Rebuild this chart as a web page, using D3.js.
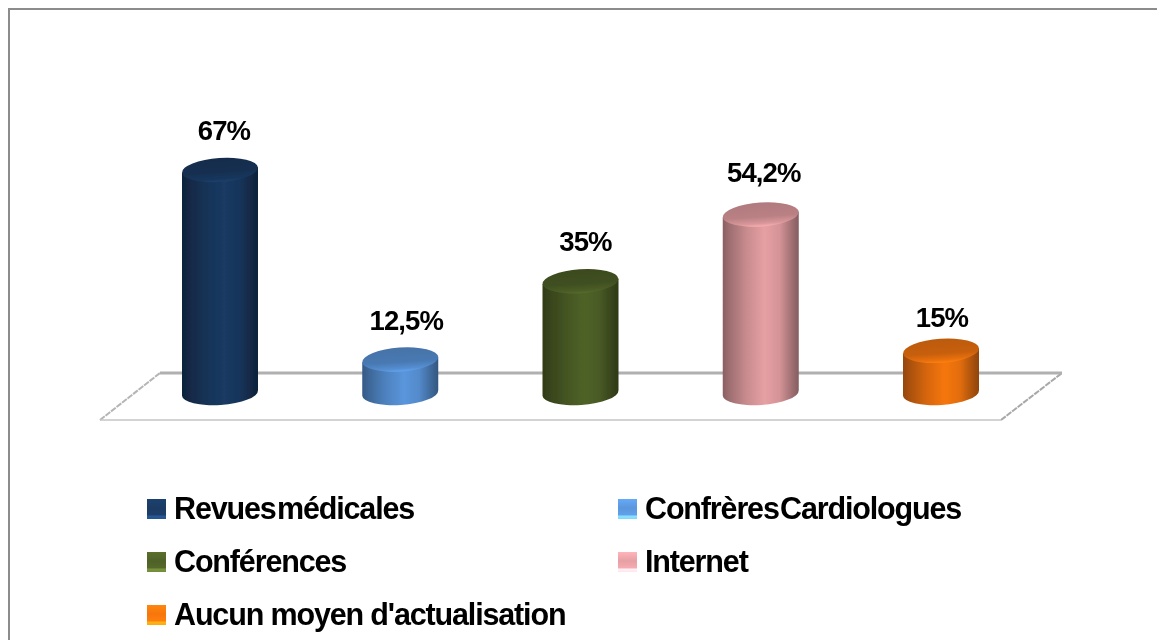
<!DOCTYPE html>
<html><head><meta charset="utf-8">
<script src="https://cdn.jsdelivr.net/npm/d3@7"></script>
<style>html,body{margin:0;padding:0;background:#fff}svg{display:block}text{font-family:"Liberation Sans",Arial,sans-serif;font-weight:700;fill:#000}</style>
</head><body><div id="c"></div>
<script>
const categories = ["Revues médicales","Confrères Cardiologues","Conférences","Internet","Aucun moyen d'actualisation"];
const values = [67,12.5,35,54.2,15];
const valueLabels = ["67%","12,5%","35%","54,2%","15%"];
const colors = ["#1a3a63","#5a96dc","#4f6228","#e6a0a4","#f6760c"];
const labelDx = [4,6,5,3,1];
const labelDy = [-30,-30,-30,-33,-24];
const legendWordSpacing = [-6,-6,0,0,0];

const W=1157,H=640;
const svg=d3.select("#c").append("svg").attr("width",W).attr("height",H);
const defs=svg.append("defs");
defs.append("filter").attr("id","soft").append("feGaussianBlur").attr("stdDeviation",.4);
svg.append("rect").attr("x",9).attr("y",9).attr("width",W+10).attr("height",H+10)
  .attr("fill","#fff").attr("stroke","#8c8c8c").attr("stroke-width",2);

const x=d3.scalePoint().domain(categories).range([220,941]);
const y=d3.scaleLinear().domain([0,67]).range([403,170]);
const baseY=393, rx=38, ry=12, tilt=-4;

const floor=svg.append("g").attr("fill","none");
floor.append("path").attr("d","M100,420L160,373").attr("stroke","#b5b5b5").attr("stroke-width",2).attr("stroke-dasharray","6 1");
floor.append("path").attr("d","M1001,420L1062,373").attr("stroke","#a8a8a8").attr("stroke-width",2).attr("stroke-dasharray","6 1");
floor.append("path").attr("d","M100,420H1001").attr("stroke","#c4c4c4").attr("stroke-width",1.6);
floor.append("path").attr("d","M160,373H1062").attr("stroke","#b0b0b0").attr("stroke-width",3);

colors.forEach((c,i)=>{
  const col=d3.rgb(c);
  const g=defs.append("linearGradient").attr("id","b"+i).attr("x1",0).attr("x2",1).attr("y1",0).attr("y2",0);
  [[0,.6],[.08,.68],[.3,.86],[.55,1],[.75,.92],[.92,.68],[1,.58]].forEach(([o,k])=>
    g.append("stop").attr("offset",o).attr("stop-color",d3.rgb(col.r*k,col.g*k,col.b*k)));
  const s=defs.append("linearGradient").attr("id","s"+i).attr("x1",0).attr("x2",0).attr("y1",0).attr("y2",1);
  s.append("stop").attr("offset",0).attr("stop-color",col.darker(.75));
  s.append("stop").attr("offset",.6).attr("stop-color",col.darker(.6));
  s.append("stop").attr("offset",.88).attr("stop-color",col.darker(.15));
  s.append("stop").attr("offset",1).attr("stop-color",col.brighter(.25));
  const l=defs.append("linearGradient").attr("id","l"+i).attr("x1",0).attr("x2",0).attr("y1",0).attr("y2",1);
  l.append("stop").attr("offset",0).attr("stop-color",col.brighter(.35));
  l.append("stop").attr("offset",.45).attr("stop-color",col);
  l.append("stop").attr("offset",.82).attr("stop-color",col.brighter(.2));
  l.append("stop").attr("offset",.83).attr("stop-color",col.brighter(1.2));
  l.append("stop").attr("offset",1).attr("stop-color",col.brighter(1));
});

const dy=Math.tan(tilt*Math.PI/180)*rx;
const chart=svg.append("g").attr("filter","url(#soft)");
const bars=chart.selectAll("g.bar").data(categories).join("g").attr("class","bar");
bars.append("path")
  .attr("d",(d,i)=>{
    const cx=x(d),t=y(values[i]);
    return `M${cx-rx},${t-dy}L${cx+rx},${t+dy}L${cx+rx},${baseY+dy}A${rx},${ry} ${tilt} 0 1 ${cx-rx},${baseY-dy}Z`;
  })
  .attr("fill",(d,i)=>`url(#b${i})`);
bars.append("ellipse")
  .attr("cx",0).attr("cy",0).attr("rx",rx).attr("ry",ry)
  .attr("transform",(d,i)=>`translate(${x(d)},${y(values[i])}) rotate(${tilt})`)
  .attr("fill",(d,i)=>`url(#s${i})`);

const textLayer=svg.append("g").attr("filter","url(#soft)");
textLayer.selectAll("text.val").data(categories).join("text").attr("class","val")
  .attr("x",(d,i)=>x(d)+labelDx[i])
  .attr("y",(d,i)=>y(values[i])+labelDy[i])
  .attr("text-anchor","middle").attr("font-size",27.5).attr("letter-spacing",-.9)
  .text((d,i)=>valueLabels[i]);

const legX=[147,618], legY=[509,562,615];
const pos=[[0,0],[1,0],[0,1],[1,1],[0,2]];
const leg=textLayer.selectAll("g.leg").data(categories).join("g").attr("class","leg")
  .attr("transform",(d,i)=>`translate(${legX[pos[i][0]]},${legY[pos[i][1]]})`);
leg.append("rect").attr("x",0).attr("y",-10).attr("width",19).attr("height",20)
  .attr("fill",(d,i)=>`url(#l${i})`);
leg.append("text").attr("x",27).attr("y",10).attr("font-size",30.5).attr("letter-spacing",-1.15)
  .attr("word-spacing",(d,i)=>legendWordSpacing[i])
  .text(d=>d);
</script></body></html>
